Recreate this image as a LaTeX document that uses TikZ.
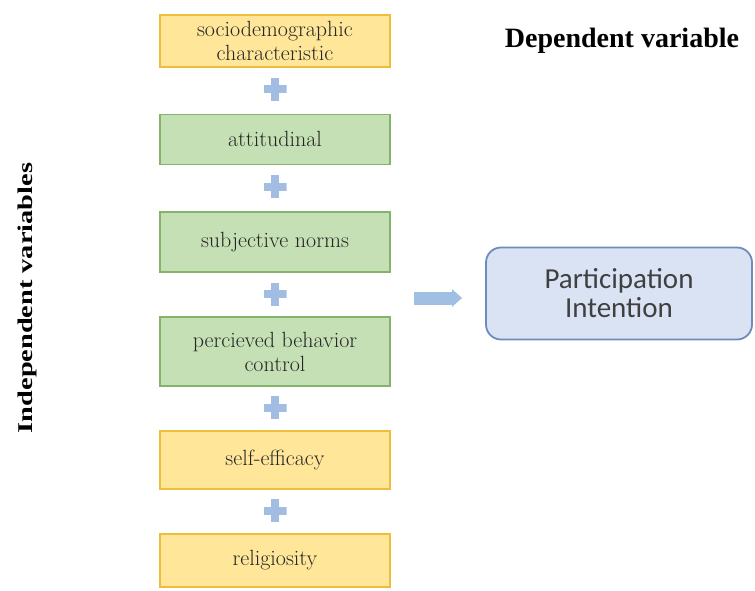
\documentclass[tikz,border=0pt]{standalone}
\usepackage{fontspec}
\newfontfamily\headfont{Liberation Serif}
\newfontfamily\calfont{Carlito}
\usetikzlibrary{positioning, arrows.meta}

\definecolor{boxyellow}{HTML}{FFE699}
\definecolor{edgeyellow}{HTML}{EDBE3C}
\definecolor{boxgreen}{HTML}{C5E0B4}
\definecolor{edgegreen}{HTML}{86B36C}
\definecolor{plusblue}{HTML}{A3BCE2}
\definecolor{arrowblue}{HTML}{9FC0E3}
\definecolor{depfill}{HTML}{DAE3F3}
\definecolor{depedge}{HTML}{6D8CBA}

\begin{document}
\begin{tikzpicture}[
    x=1pt, y=1pt,
    node distance=10pt,
    varbox/.style={rectangle, draw, line width=1.5pt, minimum width=230pt,
        align=center, inner sep=1pt, text=black!85,
        font=\fontsize{22}{24}\selectfont},
    demographic/.style={varbox, fill=boxyellow, draw=edgeyellow},
    tpb/.style={varbox, fill=boxgreen, draw=edgegreen},
    plussign/.style={rectangle, minimum size=23pt, inner sep=0pt,
        path picture={
            \fill[plusblue] ([xshift=-4pt]path picture bounding box.north) rectangle ([xshift=4pt]path picture bounding box.south);
            \fill[plusblue] ([yshift=-4pt]path picture bounding box.west) rectangle ([yshift=4pt]path picture bounding box.east);
        }},
    outcome/.style={rectangle, rounded corners=15pt, draw=depedge, fill=depfill,
        line width=1.8pt, minimum width=266pt, minimum height=92pt,
        align=center, text=black!75, font=\calfont\fontsize{29}{29}\selectfont},
    heading/.style={text=black, font=\headfont\bfseries\fontsize{28}{32}\selectfont},
    bigarrow/.style={draw=arrowblue, line width=13pt, -{Triangle[length=10pt, width=17pt]}}
]

\useasboundingbox (0,0) rectangle (755,-590);

% Independent variables (column)
\node[demographic, minimum height=52pt] (socio) at (275,-41) {sociodemographic\\characteristic};
\node[plussign, below=of socio] (plus1) {};
\node[tpb, minimum height=50pt, below=12.5pt of plus1] (attitude) {attitudinal};
\node[plussign, below=of attitude] (plus2) {};
\node[tpb, minimum height=60pt, below=12.5pt of plus2] (norms) {subjective norms};
\node[plussign, below=of norms] (plus3) {};
\node[tpb, minimum height=69pt, below=10.5pt of plus3] (control) {percieved behavior\\control};
\node[plussign, below=9pt of control] (plus4) {};
\node[demographic, minimum height=58pt, below=11pt of plus4] (efficacy) {self-efficacy};
\node[plussign, below=9pt of efficacy] (plus5) {};
\node[demographic, minimum height=53pt, below=11pt of plus5] (religion) {religiosity};

% Dependent variable
\node[outcome] (intention) at (619,-293.5) {Participation\\Intention};

% Headings
\node[heading] (dependent) at (622,-41) {Dependent variable};
\node[heading, rotate=90, xscale=1.35, font=\headfont\bfseries\fontsize{21}{25}\selectfont] (independent) at (27,-298) {Independent variables};

% Arrow
\draw[bigarrow] ([xshift=-71pt, yshift=-4.5pt]intention.west) -- ([xshift=-23pt, yshift=-4.5pt]intention.west);

\end{tikzpicture}
\end{document}
